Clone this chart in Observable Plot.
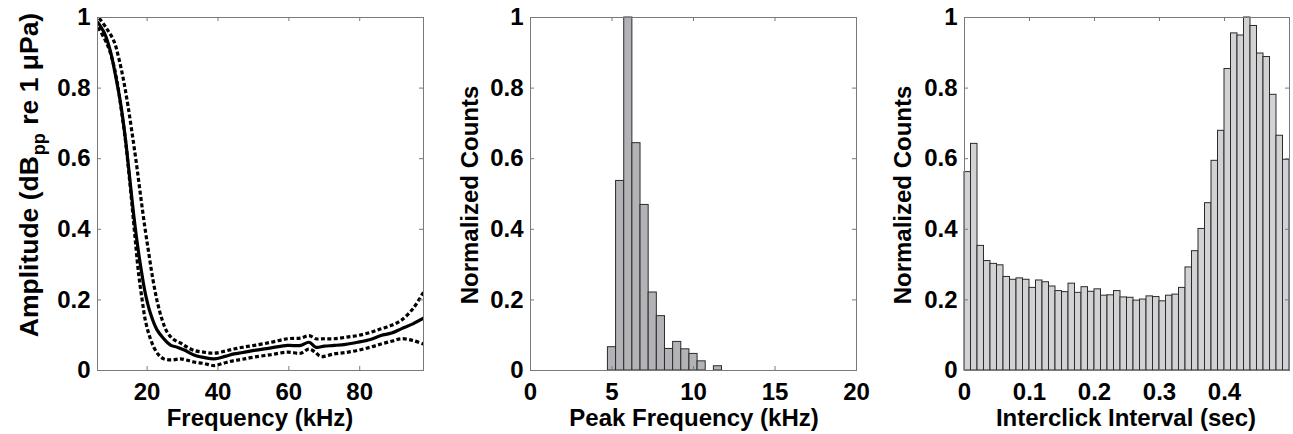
<!DOCTYPE html>
<html><head><meta charset="utf-8">
<script src="https://cdn.jsdelivr.net/npm/d3@7"></script>
<script src="https://cdn.jsdelivr.net/npm/@observablehq/plot@0.6"></script>
<style>
body{margin:0;background:#fff;}
#root{position:relative;width:1293px;height:434px;overflow:hidden;font-family:"Liberation Sans",Arial,sans-serif;font-weight:bold;}
.lab{position:absolute;white-space:nowrap;font-size:24px;line-height:24px;color:#000;transform:translate(-50%,-50%);}
.rot{transform:translate(-50%,-50%) rotate(-90deg);}
.big{font-size:26.5px;line-height:26.5px;}
.sub{font-size:18px;position:relative;top:7px;margin:0 1px;}
.plot{position:absolute;top:0;}
</style></head><body><div id="root"></div>
<script>
// ---- Panel 1: spectrum (mean and +/- bounds)
const meanFreq = [6.2, 8, 9.6, 11, 12.4, 13.4, 14.3, 15.2, 16.2, 17.1, 18.1, 19.5, 21, 22.8, 24.7, 26.6, 28.5, 30.5, 33.2, 36, 38.9, 42, 44.5, 47, 50.2, 55, 59.6, 63.4, 65.7, 67.6, 70, 72.8, 76, 79.4, 83, 86, 89, 91.7, 95, 98];
const meanAmp  = [0.985, 0.955, 0.906, 0.84, 0.764, 0.695, 0.62, 0.535, 0.443, 0.37, 0.30, 0.218, 0.16, 0.115, 0.09, 0.072, 0.066, 0.058, 0.044, 0.037, 0.033, 0.040, 0.047, 0.051, 0.057, 0.064, 0.071, 0.071, 0.080, 0.066, 0.069, 0.071, 0.074, 0.080, 0.088, 0.099, 0.106, 0.118, 0.132, 0.148];
const upFreq = [6.5, 8.5, 10.6, 12, 13.4, 14.6, 15.8, 17, 18.1, 19.3, 20.5, 21.6, 22.8, 24.2, 25.7, 27.5, 29.4, 31, 33.2, 36, 38.9, 42, 44.5, 47, 50.2, 55, 59.6, 63.4, 65.7, 67.6, 70, 72.8, 76, 79.4, 83, 86, 89, 91.7, 95, 98];
const upAmp  = [0.998, 0.97, 0.934, 0.885, 0.82, 0.75, 0.67, 0.585, 0.50, 0.41, 0.33, 0.26, 0.198, 0.145, 0.108, 0.088, 0.078, 0.068, 0.057, 0.052, 0.049, 0.055, 0.061, 0.066, 0.071, 0.080, 0.090, 0.092, 0.099, 0.090, 0.090, 0.090, 0.094, 0.099, 0.108, 0.118, 0.128, 0.142, 0.175, 0.222];
const loFreq = [6.2, 8.7, 10.2, 11.5, 12.7, 13.9, 14.9, 15.8, 16.7, 17.6, 18.6, 19.5, 20.6, 21.9, 23.2, 24.7, 27, 29.4, 31, 33.2, 36, 38.9, 42, 44.5, 47, 50.2, 55, 59.6, 63.4, 65.7, 67.4, 69, 72.8, 76, 79.4, 83, 86, 89, 91.7, 95, 98];
const loAmp  = [0.972, 0.925, 0.88, 0.82, 0.74, 0.651, 0.555, 0.462, 0.365, 0.274, 0.2, 0.142, 0.1, 0.066, 0.045, 0.033, 0.030, 0.033, 0.030, 0.024, 0.020, 0.014, 0.022, 0.028, 0.032, 0.038, 0.045, 0.052, 0.049, 0.061, 0.052, 0.040, 0.047, 0.051, 0.057, 0.066, 0.075, 0.083, 0.090, 0.085, 0.075];

// ---- Panel 2: peak frequency histogram (bin centres, kHz)
const peakBinCenters = [5, 5.5, 6, 6.5, 7, 7.5, 8, 8.5, 9, 9.5, 10, 10.5, 11, 11.5];
const peakCounts     = [0.066, 0.537, 1.0, 0.644, 0.469, 0.221, 0.154, 0.061, 0.081, 0.060, 0.047, 0.026, 0, 0.012];
const peakBinWidth = 0.5;

// ---- Panel 3: interclick interval histogram (bin starts, sec)
const iciBinStarts = [0,0.01,0.02,0.03,0.04,0.05,0.06,0.07,0.08,0.09,0.10,0.11,0.12,0.13,0.14,0.15,0.16,0.17,0.18,0.19,0.20,0.21,0.22,0.23,0.24,0.25,0.26,0.27,0.28,0.29,0.30,0.31,0.32,0.33,0.34,0.35,0.36,0.37,0.38,0.39,0.40,0.41,0.42,0.43,0.44,0.45,0.46,0.47,0.48,0.49];
const iciCounts = [0.562,0.642,0.353,0.310,0.302,0.298,0.265,0.257,0.261,0.257,0.234,0.255,0.250,0.238,0.225,0.222,0.246,0.220,0.236,0.223,0.230,0.212,0.213,0.225,0.207,0.206,0.198,0.201,0.210,0.208,0.196,0.212,0.215,0.234,0.292,0.338,0.401,0.474,0.594,0.679,0.854,0.955,0.949,1.0,0.976,0.898,0.888,0.781,0.665,0.597];
const iciBinWidth = 0.01;

// ---- Ticks
const yTicks = [0, 0.2, 0.4, 0.6, 0.8, 1];
const freqTicks = [20, 40, 60, 80];
const peakTicks = [0, 5, 10, 15, 20];
const iciTicks = [0, 0.1, 0.2, 0.3, 0.4];

const H = 434, MT = 17, MB = 64, FH = H - MT - MB, TL = 4;
const root = document.getElementById("root");
const fmt = d => String(+d.toFixed(2));

function frameMarks(xTicks, fw) {
  return [
    Plot.frame({stroke: "#7a7a7a", strokeWidth: 1}),
    Plot.tickX(xTicks, {x: d => d, stroke: "#7a7a7a", insetTop: FH - TL}),
    Plot.tickX(xTicks, {x: d => d, stroke: "#7a7a7a", insetBottom: FH - TL}),
    Plot.tickY(yTicks, {y: d => d, stroke: "#7a7a7a", insetRight: fw - TL}),
    Plot.tickY(yTicks, {y: d => d, stroke: "#7a7a7a", insetLeft: fw - TL}),
    Plot.axisX(xTicks, {tickSize: 0, tickPadding: 12, tickFormat: fmt, label: null}),
    Plot.axisY(yTicks, {tickSize: 0, tickPadding: 7, tickFormat: fmt, label: null})
  ];
}

function place(svg, left) {
  svg.classList.add("plot");
  svg.style.left = left + "px";
  root.appendChild(svg);
}

const style = {fontFamily: '"Liberation Sans", Arial, sans-serif', fontSize: "24px", fontWeight: "bold", color: "#000", background: "transparent", overflow: "visible"};

// Panel 1
const zip = (xs, ys) => xs.map((x, i) => ({x, y: ys[i]}));
const dashed = {x: "x", y: "y", stroke: "#000", strokeWidth: 3.2, strokeDasharray: "4,2.4", strokeLinecap: "butt", strokeLinejoin: "miter", curve: "catmull-rom", clip: true};
const p1 = Plot.plot({
  width: 440, height: H, marginLeft: 97, marginRight: 17, marginTop: MT, marginBottom: MB,
  x: {domain: [6, 98]}, y: {domain: [0, 1]}, style,
  marks: [
    Plot.line(zip(upFreq, upAmp), dashed),
    Plot.line(zip(loFreq, loAmp), dashed),
    Plot.line(zip(meanFreq, meanAmp), {x: "x", y: "y", stroke: "#000", strokeWidth: 3.2, curve: "catmull-rom", clip: true}),
    ...frameMarks(freqTicks, 440 - 97 - 17)
  ]
});
place(p1, 0);

// Panel 2
const p2 = Plot.plot({
  width: 430, height: H, marginLeft: 90, marginRight: 14, marginTop: MT, marginBottom: MB,
  x: {domain: [0, 20]}, y: {domain: [0, 1]}, style,
  marks: [
    Plot.rectY(peakBinCenters.map((c, i) => ({x1: c - peakBinWidth / 2, x2: c + peakBinWidth / 2, y: peakCounts[i]})).filter(d => d.y > 0),
      {x1: "x1", x2: "x2", y: "y", fill: "#b3b3b7", stroke: "#2b2b2b", strokeWidth: 1}),
    ...frameMarks(peakTicks, 430 - 90 - 14)
  ]
});
place(p2, 440);

// Panel 3
const p3 = Plot.plot({
  width: 423, height: H, marginLeft: 94, marginRight: 4, marginTop: MT, marginBottom: MB,
  x: {domain: [0, 0.5]}, y: {domain: [0, 1]}, style,
  marks: [
    Plot.rectY(iciBinStarts.map((s, i) => ({x1: s, x2: s + iciBinWidth, y: iciCounts[i]})),
      {x1: "x1", x2: "x2", y: "y", fill: "#d2d2d4", stroke: "#2b2b2b", strokeWidth: 1}),
    ...frameMarks(iciTicks, 423 - 94 - 4)
  ]
});
place(p3, 870);

// Axis labels
function label(html, x, y, cls) {
  const d = document.createElement("div");
  d.className = "lab" + (cls ? " " + cls : "");
  d.innerHTML = html;
  d.style.left = x + "px";
  d.style.top = y + "px";
  root.appendChild(d);
}
label('Amplitude (dB<span class="sub">pp</span> re 1 \u03BCPa)', 31, 175, "rot big");
label("Frequency (kHz)", 260, 418);
label("Normalized Counts", 470, 195, "rot");
label("Peak Frequency (kHz)", 694, 418);
label("Normalized Counts", 903, 195, "rot");
label("Interclick Interval (sec)", 1126, 418);
</script></body></html>
